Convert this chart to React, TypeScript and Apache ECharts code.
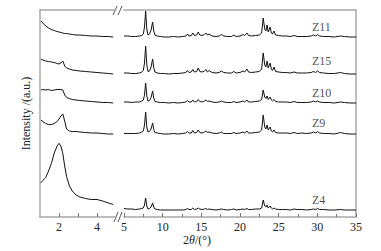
import React, { useEffect, useRef } from "react";
import * as echarts from "echarts";

const sampleNames = ["Z11", "Z15", "Z10", "Z9", "Z4"];
const offsets = [180, 143, 114, 83, 7];
const labelAngle = 29.3;
const labelY = [190, 156, 124, 94, 17];

const lowAngles = [1.05, 1.15, 1.3, 1.45, 1.6, 1.75, 1.9, 2.0, 2.1, 2.2, 2.3, 2.4, 2.55, 2.7, 2.9, 3.1, 3.4, 3.7, 4.0, 4.3, 4.6, 4.85];
const lowZ11 = [16, 14, 11, 9, 7.5, 6.5, 5.5, 5, 4.5, 4, 3.5, 3.5, 3, 2.5, 2, 2, 1.5, 1, 1, 0.5, 0.5, 0];
const lowZ15 = [14.7, 14, 13, 12.5, 12, 11.5, 10.5, 10, 11, 13, 8, 6, 5, 4, 3.5, 3, 2.5, 2, 1.5, 1, 0.5, 0];
const lowZ10 = [13, 13.5, 13, 13.5, 12.5, 13, 13.5, 13.5, 13.5, 13, 8, 5.5, 4.5, 3.5, 3, 2.5, 2, 1.5, 1, 0.5, 0.5, 0];
const lowZ9 = [14, 12.5, 10.5, 9.5, 9.5, 10.5, 12.5, 15, 18, 20, 13, 5, 3, 2.5, 2.5, 2, 1.5, 1, 1, 0.5, 0, 0];
const lowZ4 = [27.3, 29.5, 32.5, 39, 46.5, 57, 64, 66.7, 64, 56.5, 44, 33.3, 24, 19, 15, 13, 11.5, 10.5, 10.5, 9, 7, 5.5];

const highAngles = [
  5, 5.5, 6, 6.5, 7, 7.3, 7.5, 7.65, 7.8, 7.95,
  8.1, 8.3, 8.5, 8.7, 8.85, 9.0, 9.3, 9.7, 10.2, 10.8,
  11.4, 12, 12.6, 13.0, 13.2, 13.4, 13.7, 13.9, 14.1, 14.4,
  14.6, 14.8, 15.1, 15.4, 15.6, 15.8, 16.0, 16.4, 16.9, 17.3,
  17.6, 17.9, 18.4, 18.9, 19.2, 19.5, 20.0, 20.4, 20.6, 20.9,
  21.1, 21.5, 22.0, 22.5, 22.8, 23.0, 23.2, 23.35, 23.5, 23.65,
  23.9, 24.05, 24.2, 24.4, 24.6, 25.0, 25.5, 26.0, 26.5, 27.0,
  27.4, 28.0, 28.6, 29.2, 29.5, 29.8, 30.0, 30.3, 30.8, 31.5,
  32.2, 33.0, 33.5, 34.2, 35,
];
const highZ11 = [
  1, 1, 0.5, 0.5, 1, 1.5, 3, 10, 26, 8,
  2, 3, 7, 15, 6, 2, 1, 0.5, 0, 0,
  0.5, 0, 0.5, 1, 3, 1, 1.5, 4, 1.5, 2,
  5, 2, 1.5, 2.5, 4, 2, 3, 1, 0.5, 1,
  2.5, 1, 0.5, 0.5, 2, 0.5, 1, 2.5, 1.5, 4,
  1.5, 1, 1.5, 2, 4, 19, 8, 6, 12, 5,
  10, 4, 3, 6, 2, 1.5, 1, 1, 0.5, 1.5,
  0.5, 0.5, 0.5, 1, 2, 1, 2.5, 1, 0.5, 0.5,
  0, 1, 0.5, 0, 0,
];
const highZ15 = [
  1, 1, 0.5, 0.5, 1, 2, 3.5, 11, 28, 9,
  2.5, 3, 7, 15, 6, 2, 1, 0.5, 0.5, 0,
  0.5, 0.5, 1, 1.5, 3.5, 1.5, 2, 4.5, 2, 2.5,
  6, 2.5, 2, 3, 4.5, 2, 3.5, 1.5, 1, 1.5,
  3, 1.5, 1, 1, 2.5, 1, 1.5, 3, 2, 5,
  2, 1.5, 2, 2.5, 5, 21, 9, 7, 13, 6,
  11, 5, 3.5, 7, 2.5, 2, 1.5, 1.5, 1, 2,
  1, 1, 1, 1.5, 2.5, 1.5, 3, 1.5, 1, 0.5,
  0.5, 1.5, 0.5, 0, 0,
];
const highZ10 = [
  1, 1, 0.5, 1, 1, 2, 3, 8, 20, 7,
  2, 2.5, 5.5, 12, 5, 1.5, 1, 0.5, 0.5, 0,
  0.5, 0, 0.5, 1, 2.5, 1, 1, 3, 1, 1.5,
  3.5, 1.5, 1, 2, 3, 1.5, 2, 1, 0.5, 1,
  2, 1, 0.5, 0.5, 1.5, 0.5, 1, 2, 1, 3,
  1, 1, 1.5, 2, 3.5, 13, 6, 4.5, 7, 3.5,
  6, 3, 2, 3.5, 1.5, 1, 1, 1, 0.5, 1.5,
  0.5, 0.5, 0.5, 1, 2, 1, 2, 1, 0.5, 0.5,
  0, 1, 0.5, 0, 0,
];
const highZ9 = [
  0.5, 0.5, 0.5, 0.5, 1, 2, 3, 9, 22, 7,
  2, 2.5, 5, 11, 4.5, 1.5, 1, 0.5, 0, 0,
  0.5, 0, 0.5, 1, 2.5, 1, 1, 3.5, 1, 1.5,
  4, 1.5, 1, 2, 3, 1.5, 2, 1, 0.5, 1,
  2, 0.5, 0.5, 0.5, 1.5, 0.5, 1, 2, 1, 3,
  1, 1, 1.5, 2, 4, 19, 7, 5, 9, 4,
  7, 3, 2, 4, 1.5, 1, 1, 1, 0.5, 1.5,
  0.5, 1, 0.5, 1, 2, 1, 2.5, 1, 0.5, 0.5,
  0, 1.5, 0.5, 0, 0,
];
const highZ4 = [
  1.5, 1, 1, 0.5, 1, 1.5, 2, 5, 12, 4,
  1, 1.5, 3, 7, 3, 1, 0.5, 0, 0, 0,
  0, 0, 0, 0.5, 1.5, 0.5, 0.5, 2, 0.5, 1,
  2, 1, 0.5, 1, 1.5, 0.5, 1, 0.5, 0, 0.5,
  1, 0.5, 0, 0.5, 1, 0, 0.5, 1, 0.5, 1.5,
  0.5, 0.5, 1, 1, 2, 10, 4, 3, 5, 2,
  4, 2, 1, 2, 1, 0.5, 0.5, 0.5, 0, 1,
  0.5, 0.5, 0, 0.5, 1, 0.5, 1.5, 0.5, 0.5, 0,
  0, 0.5, 0, 0, 0,
];

const lowTickLabels = [2, 4];
const lowTicks = [2, 3, 4];

const FONT = "Liberation Serif";
const AXIS_COLOR = "#a8a8a8";
const TEXT_COLOR = "#222";
const LINE_COLOR = "#111";

export default function App() {
  const ref = useRef<HTMLDivElement>(null);

  useEffect(() => {
    const chart = echarts.init(ref.current!, null, { renderer: "svg" });
    const lowSets = [lowZ11, lowZ15, lowZ10, lowZ9, lowZ4];
    const highSets = [highZ11, highZ15, highZ10, highZ9, highZ4];

    const series: any[] = [];
    sampleNames.forEach((name, i) => {
      series.push({
        type: "line",
        name: name + "-low",
        xAxisIndex: 0,
        yAxisIndex: 0,
        data: lowAngles.map((x, j) => [x, lowSets[i][j] + offsets[i]]),
        symbol: "none",
        showSymbol: false,
        silent: true,
        lineStyle: { color: LINE_COLOR, width: 1 },
      });
      series.push({
        type: "line",
        name: name + "-high",
        xAxisIndex: 2,
        yAxisIndex: 1,
        data: highAngles.map((x, j) => [x, highSets[i][j] + offsets[i]]),
        symbol: "none",
        showSymbol: false,
        silent: true,
        lineStyle: { color: LINE_COLOR, width: 1 },
      });
    });
    series.push({
      type: "scatter",
      xAxisIndex: 2,
      yAxisIndex: 1,
      symbolSize: 0,
      silent: true,
      itemStyle: { color: TEXT_COLOR },
      data: sampleNames.map((n, i) => [labelAngle, labelY[i], n]),
      label: {
        show: true,
        position: "right",
        distance: 0,
        formatter: (p: any) => p.value[2],
        fontFamily: FONT,
        fontSize: 12,
        color: TEXT_COLOR,
      },
    });

    const lineOnly = (gridIndex: number, min: number, max: number) => ({
      type: "value",
      gridIndex,
      position: "top",
      min,
      max,
      axisLine: { show: true, onZero: false, lineStyle: { color: AXIS_COLOR, width: 1.5 } },
      axisTick: { show: false },
      axisLabel: { show: false },
      splitLine: { show: false },
    });

    const breakLine = (x1: number, y1: number, x2: number, y2: number) => ({
      type: "line",
      shape: { x1, y1, x2, y2 },
      style: { stroke: "#555", lineWidth: 1 },
      silent: true,
    });

    chart.setOption({
      animation: false,
      textStyle: { fontFamily: FONT },
      grid: [
        { left: 40, top: 10, width: 76, height: 207 },
        { left: 124, top: 10, width: 232, height: 207 },
      ],
      xAxis: [
        {
          type: "value",
          gridIndex: 0,
          position: "bottom",
          min: 1,
          max: 5,
          axisLine: { show: true, onZero: false, lineStyle: { color: AXIS_COLOR, width: 1.5 } },
          axisTick: { show: true, inside: true, length: 4, customValues: lowTicks, lineStyle: { color: "#777" } },
          axisLabel: { show: true, customValues: lowTickLabels, fontFamily: FONT, fontSize: 12, color: TEXT_COLOR, margin: 4 },
          splitLine: { show: false },
        },
        lineOnly(0, 1, 5),
        {
          type: "value",
          gridIndex: 1,
          position: "bottom",
          min: 5,
          max: 35,
          interval: 5,
          axisLine: { show: true, onZero: false, lineStyle: { color: AXIS_COLOR, width: 1.5 } },
          axisTick: { show: true, inside: true, length: 4, lineStyle: { color: "#777" } },
          minorTick: { show: true, splitNumber: 2, length: 3, lineStyle: { color: "#777" } },
          axisLabel: { show: true, fontFamily: FONT, fontSize: 12, color: TEXT_COLOR, margin: 4 },
          splitLine: { show: false },
        },
        lineOnly(1, 5, 35),
      ],
      yAxis: [
        {
          type: "value",
          gridIndex: 0,
          position: "left",
          min: 0,
          max: 207,
          axisLine: { show: true, onZero: false, lineStyle: { color: AXIS_COLOR, width: 1.5 } },
          axisTick: { show: false },
          axisLabel: { show: false },
          splitLine: { show: false },
          name: "Intensity /(a.u.)",
          nameLocation: "middle",
          nameRotate: 90,
          nameGap: 8,
          nameTextStyle: { fontFamily: FONT, fontSize: 12, color: TEXT_COLOR },
        },
        {
          type: "value",
          gridIndex: 1,
          position: "right",
          min: 0,
          max: 207,
          axisLine: { show: true, onZero: false, lineStyle: { color: AXIS_COLOR, width: 1.5 } },
          axisTick: { show: false },
          axisLabel: { show: false },
          splitLine: { show: false },
        },
      ],
      graphic: [
        breakLine(113, 15, 117, 6),
        breakLine(118, 15, 122, 6),
        breakLine(114, 222, 118, 212),
        breakLine(118, 222, 122, 212),
        {
          type: "text",
          x: 197,
          y: 240,
          silent: true,
          style: {
            text: "{a|2}{i|θ}{a|/(°)}",
            align: "center",
            verticalAlign: "middle",
            rich: {
              a: { fontFamily: FONT, fontSize: 12, fill: TEXT_COLOR },
              i: { fontFamily: FONT, fontSize: 12, fontStyle: "italic", fill: TEXT_COLOR },
            },
          },
        },
      ],
      series,
    });

    return () => chart.dispose();
  }, []);

  return (
    <div
      ref={ref}
      style={{ position: "fixed", left: 0, top: 0, width: 381, height: 251, background: "#fff" }}
    />
  );
}
